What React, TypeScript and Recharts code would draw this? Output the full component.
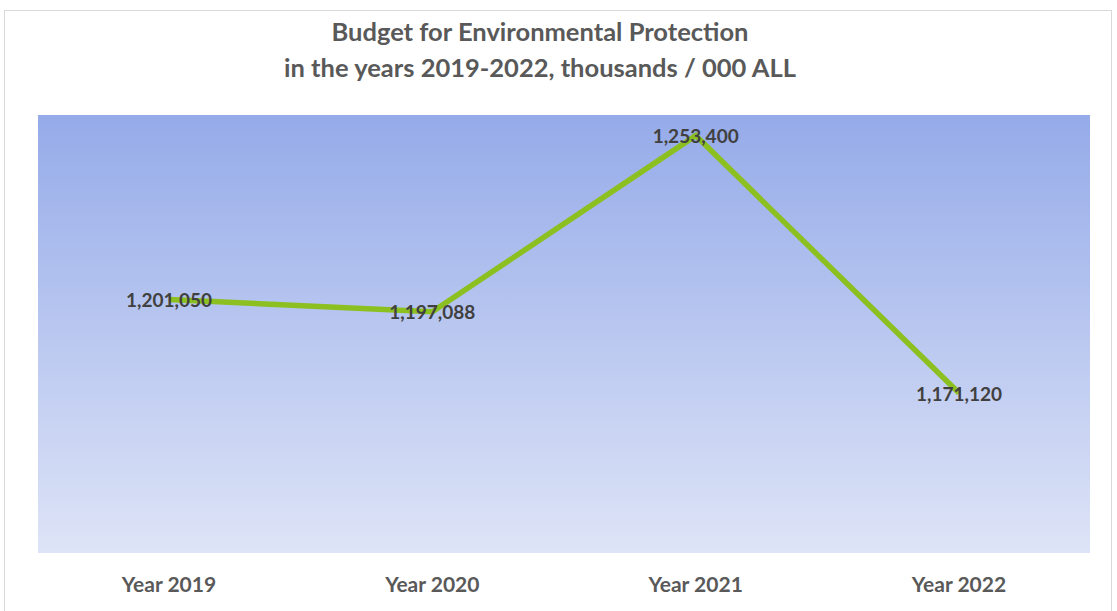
import React from 'react';
import { LineChart, Line, XAxis, YAxis, CartesianGrid, LabelList } from 'recharts';

const categories = ['Year 2019', 'Year 2020', 'Year 2021', 'Year 2022'];
const budget = [1201050, 1197088, 1253400, 1171120];
const titleLines = ['Budget for Environmental Protection', 'in the years 2019-2022, thousands / 000 ALL'];

const data = categories.map((c, i) => ({ year: c, value: budget[i] }));

const FONT = 'Lato, "Open Sans", sans-serif';

const renderLabel = (props: any) => {
  const { x, y, value } = props;
  return (
    <text
      x={x}
      y={y}
      textAnchor="middle"
      dominantBaseline="central"
      fontFamily={FONT}
      fontWeight={700}
      fontSize={19}
      fill="#404040"
    >
      {Number(value).toLocaleString('en-US')}
    </text>
  );
};

export default function App() {
  return (
    <div style={{ position: 'absolute', left: 0, top: 0, width: 1117, height: 611, background: '#fff', overflow: 'hidden' }}>
      <div style={{ position: 'absolute', left: 4, top: 10, width: 1108, height: 620, border: '1px solid #d9d9d9', boxSizing: 'border-box' }} />
      <div style={{ position: 'absolute', left: 0, top: 13, width: 1080, textAlign: 'center', fontFamily: FONT, fontWeight: 700, fontSize: 25.5, color: '#595959', lineHeight: '36px' }}>
        <div>{titleLines[0]}</div>
        <div>{titleLines[1]}</div>
      </div>
      <div style={{ position: 'absolute', left: 0, top: 0 }}>
        <LineChart width={1117} height={611} data={data} margin={{ top: 115, right: 27, bottom: 0, left: 38 }}>
          <defs>
            <linearGradient id="bg" x1="0" y1="0" x2="0" y2="1">
              <stop offset="0%" stopColor="#95abe9" />
              <stop offset="100%" stopColor="#dee4f7" />
            </linearGradient>
          </defs>
          <CartesianGrid horizontal={false} vertical={false} fill="url(#bg)" stroke="none" />
          <XAxis
            dataKey="year"
            height={58}
            padding={{ left: 131, right: 131 }}
            axisLine={false}
            tickLine={false}
            tickMargin={18}
            tick={{ fontFamily: FONT, fontWeight: 700, fontSize: 21, fill: '#595959' }}
          />
          <YAxis hide domain={[1120000, 1260000]} />
          <Line
            type="linear"
            dataKey="value"
            stroke="#8cc021"
            strokeWidth={5.5}
            dot={false}
            activeDot={false}
            isAnimationActive={false}
          >
            <LabelList dataKey="value" content={renderLabel} />
          </Line>
        </LineChart>
      </div>
    </div>
  );
}
